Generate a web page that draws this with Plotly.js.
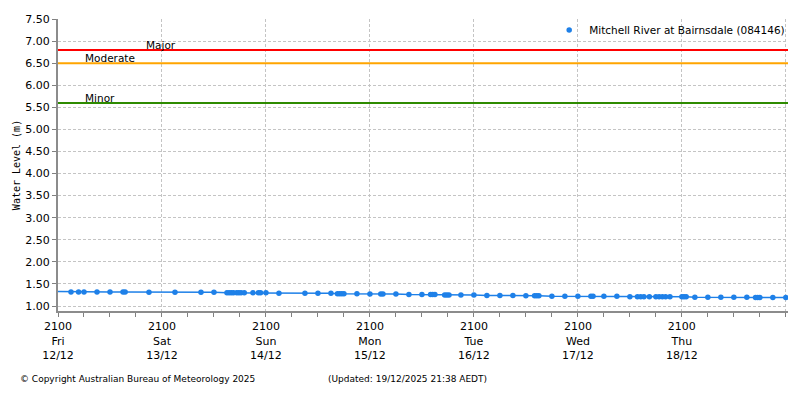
<!DOCTYPE html>
<html>
<head>
<meta charset="utf-8">
<script src="https://cdn.plot.ly/plotly-3.0.1.min.js"></script>
<style>
html,body{margin:0;padding:0;background:#fff;}
#chart{width:800px;height:400px;}
</style>
</head>
<body>
<div id="chart"></div>
<script>
// ---- data ----
const seriesName = "Mitchell River at Bairnsdale (084146)";
const times = [
"2025-12-12 18:00","2025-12-13 00:00","2025-12-13 01:45","2025-12-13 03:00","2025-12-13 06:00",
"2025-12-13 09:00","2025-12-13 12:00","2025-12-13 12:30","2025-12-13 18:00","2025-12-14 00:00",
"2025-12-14 06:00","2025-12-14 09:00","2025-12-14 12:00","2025-12-14 12:30","2025-12-14 13:00",
"2025-12-14 13:30","2025-12-14 14:15","2025-12-14 14:45","2025-12-14 15:15","2025-12-14 16:00",
"2025-12-14 18:00","2025-12-14 19:15","2025-12-14 19:45","2025-12-14 21:00","2025-12-15 00:00",
"2025-12-15 06:00","2025-12-15 09:00","2025-12-15 12:00","2025-12-15 13:30","2025-12-15 14:00",
"2025-12-15 14:30","2025-12-15 15:00","2025-12-15 18:00","2025-12-15 21:00","2025-12-15 23:30",
"2025-12-16 00:00","2025-12-16 03:00","2025-12-16 06:00","2025-12-16 09:00","2025-12-16 11:00",
"2025-12-16 11:30","2025-12-16 12:00","2025-12-16 14:15","2025-12-16 14:45","2025-12-16 15:15",
"2025-12-16 18:00","2025-12-16 21:00","2025-12-17 00:00","2025-12-17 03:00","2025-12-17 06:00",
"2025-12-17 09:00","2025-12-17 11:00","2025-12-17 11:30","2025-12-17 12:00","2025-12-17 15:00",
"2025-12-17 18:00","2025-12-17 21:00","2025-12-18 00:00","2025-12-18 00:30","2025-12-18 03:00",
"2025-12-18 06:00","2025-12-18 09:00","2025-12-18 10:45","2025-12-18 11:30","2025-12-18 12:15",
"2025-12-18 13:30","2025-12-18 15:00","2025-12-18 15:45","2025-12-18 16:30","2025-12-18 17:15",
"2025-12-18 18:15","2025-12-18 21:00","2025-12-18 21:30","2025-12-18 22:00","2025-12-19 00:00",
"2025-12-19 03:00","2025-12-19 06:00","2025-12-19 09:00","2025-12-19 12:00","2025-12-19 14:00",
"2025-12-19 14:30","2025-12-19 15:00","2025-12-19 18:00","2025-12-19 21:00"
];
const levels = [
1.33,1.32,1.32,1.32,1.32,
1.32,1.32,1.32,1.31,1.31,
1.31,1.31,1.30,1.30,1.30,
1.30,1.30,1.30,1.30,1.30,
1.30,1.30,1.30,1.30,1.29,
1.29,1.29,1.29,1.28,1.28,
1.28,1.28,1.28,1.27,1.27,
1.27,1.27,1.26,1.26,1.26,
1.26,1.26,1.25,1.25,1.25,
1.25,1.25,1.24,1.24,1.24,
1.23,1.23,1.23,1.23,1.22,
1.22,1.22,1.22,1.22,1.22,
1.22,1.21,1.21,1.21,1.21,
1.21,1.21,1.21,1.21,1.21,
1.21,1.21,1.21,1.21,1.20,
1.20,1.20,1.20,1.20,1.19,
1.19,1.19,1.19,1.19
];
const thresholdNames = ["Major","Moderate","Minor"];
const thresholdValues = [6.80, 6.50, 5.60];
const thresholdColors = ["#ff0000","#ffa500","#2e8b00"];
const thresholdLabelX = [0.1175, 0.034, 0.034];
const tickVals = ["2025-12-12 21:00","2025-12-13 21:00","2025-12-14 21:00","2025-12-15 21:00",
                  "2025-12-16 21:00","2025-12-17 21:00","2025-12-18 21:00","2025-12-19 21:00"];
const tickText = ["2100<br>Fri<br>12/12","2100<br>Sat<br>13/12","2100<br>Sun<br>14/12","2100<br>Mon<br>15/12",
                  "2100<br>Tue<br>16/12","2100<br>Wed<br>17/12","2100<br>Thu<br>18/12",""];
const xRange = ["2025-12-12 21:00","2025-12-19 21:30"];
const yRange = [0.887, 7.5];
const copyrightText = "© Copyright Australian Bureau of Meteorology 2025";
const updatedText = "(Updated: 19/12/2025 21:38 AEDT)";
const yTitle = "Water Level (m)";

// ---- chart ----
const blue = "#1e80e8";
const font = "DejaVu Sans, Verdana, sans-serif";

const traces = [
  {
    x: times, y: levels, type: "scatter", mode: "lines+markers",
    line: {color: blue, width: 1.5},
    marker: {color: blue, size: 5.5},
    showlegend: false, hoverinfo: "x+y"
  },
  {
    x: [null], y: [null], type: "scatter", mode: "markers",
    name: seriesName, marker: {color: blue, size: 5.5}, showlegend: true
  }
];

const shapes = thresholdValues.map((v, i) => ({
  type: "line", xref: "paper", x0: 0, x1: 1, yref: "y", y0: v, y1: v,
  line: {color: thresholdColors[i], width: 2}
}));

const annotations = thresholdValues.map((v, i) => ({
  xref: "paper", x: thresholdLabelX[i], yref: "y", y: v,
  xanchor: "left", yanchor: "bottom", yshift: -3,
  text: thresholdNames[i], showarrow: false,
  font: {family: font, size: 10.5, color: "#000"}
}));
annotations.push({
  xref: "paper", yref: "paper", x: -0.0545, y: -0.233, xanchor: "left", yanchor: "middle",
  text: copyrightText, showarrow: false, font: {family: font, size: 9, color: "#000"}
});
annotations.push({
  xref: "paper", yref: "paper", x: 0.3676, y: -0.233, xanchor: "left", yanchor: "middle",
  text: updatedText, showarrow: false, font: {family: font, size: 9, color: "#000"}
});

const layout = {
  width: 800, height: 400,
  margin: {l: 58, r: 10, t: 19, b: 89, pad: 0},
  paper_bgcolor: "#fff", plot_bgcolor: "#fff",
  font: {family: font, size: 11, color: "#000"},
  showlegend: true,
  legend: {x: 1.003, xanchor: "right", y: 1.012, yanchor: "top", bgcolor: "rgba(0,0,0,0)",
           itemwidth: 30, font: {family: font, size: 10.5, color: "#000"}},
  xaxis: {
    type: "date", range: xRange, tickmode: "array", tickvals: tickVals, ticktext: tickText,
    ticks: "outside", ticklen: 4, tickcolor: "#808080", tickwidth: 1,
    showline: true, linecolor: "#8c8c8c", linewidth: 2,
    showgrid: true, gridcolor: "#c4c4c4", griddash: "3px,2px", gridwidth: 1,
    zeroline: false, tickfont: {family: font, size: 11, color: "#000"},
    minor: {tick0: "2025-12-12 21:00", dtick: 21600000, ticks: "outside", ticklen: 4,
            tickcolor: "#808080", showgrid: false},
    fixedrange: true
  },
  yaxis: {
    range: yRange, tick0: 0, dtick: 0.5, tickformat: ".2f",
    ticks: "outside", ticklen: 4, tickcolor: "#808080",
    showline: true, linecolor: "#8c8c8c", linewidth: 2,
    showgrid: true, gridcolor: "#c4c4c4", griddash: "3px,2px", gridwidth: 1,
    zeroline: false, tickfont: {family: font, size: 11, color: "#000"},
    title: {text: yTitle, standoff: 3, font: {family: "DejaVu Sans Mono, monospace", size: 10, color: "#000"}},
    fixedrange: true
  },
  shapes: shapes,
  annotations: annotations
};

Plotly.newPlot("chart", traces, layout, {displayModeBar: false, staticPlot: true});
</script>
</body>
</html>
